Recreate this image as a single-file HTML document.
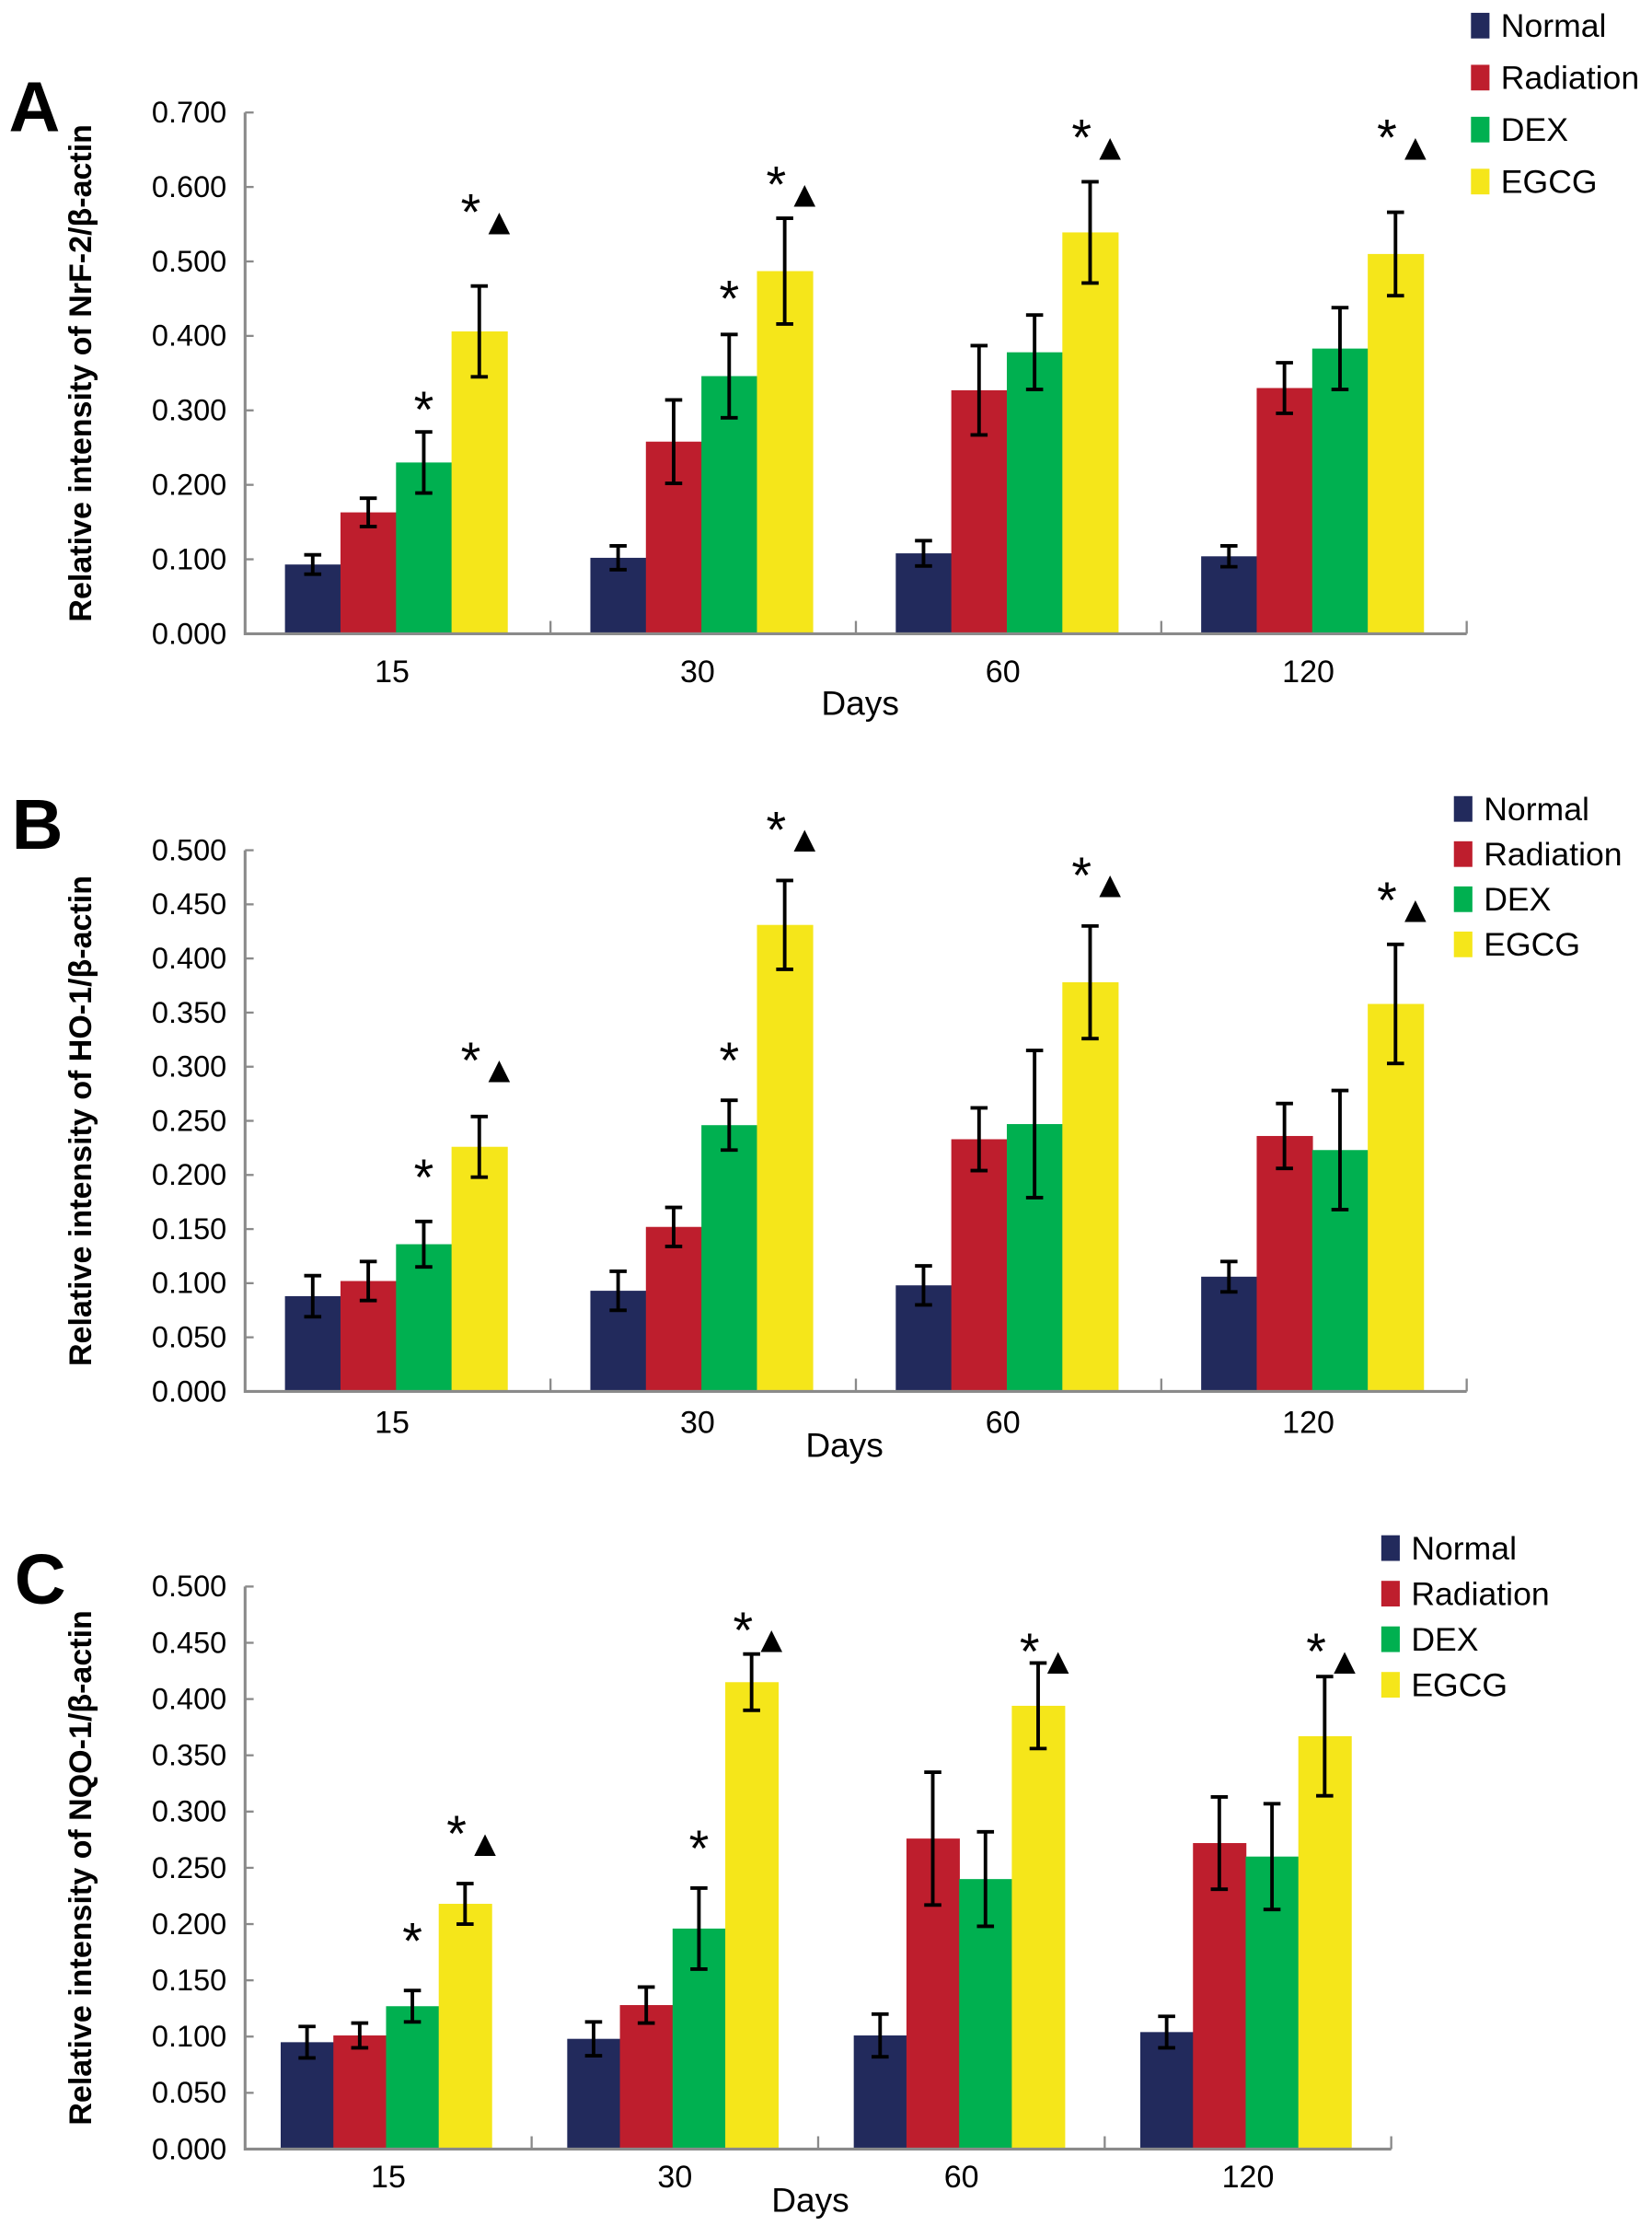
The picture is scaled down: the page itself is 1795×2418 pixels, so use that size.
<!DOCTYPE html>
<html><head><meta charset="utf-8"><style>
html,body{margin:0;padding:0;background:#fff}
svg{display:block}
text{font-family:"Liberation Sans",sans-serif}
</style></head><body>
<svg id="fig" width="1795" height="2418" viewBox="0 0 1160 1563" xmlns="http://www.w3.org/2000/svg"></svg>
<script>
const categories=["15","30","60","120"];
const seriesNames=["Normal","Radiation","DEX","EGCG"];
const colors=["#222a5c","#be1e2d","#00b050","#f5e61a"];
// Panel A
const aNormal=[0.093,0.102,0.108,0.104], aNormalErr=[0.013,0.016,0.017,0.014];
const aRad=[0.163,0.258,0.327,0.330], aRadErr=[0.019,0.056,0.060,0.034];
const aDex=[0.230,0.346,0.378,0.383], aDexErr=[0.041,0.056,0.050,0.055];
const aEgcg=[0.406,0.487,0.539,0.510], aEgcgErr=[0.061,0.071,0.068,0.056];
const aTicks=["0.000","0.100","0.200","0.300","0.400","0.500","0.600","0.700"];
const aEgcgMark=[0.575,0.612,0.675,0.675], aDexMark=[0.31,0.459,null,null];
// Panel B
const bNormal=[0.088,0.093,0.098,0.106], bNormalErr=[0.019,0.018,0.018,0.014];
const bRad=[0.102,0.152,0.233,0.236], bRadErr=[0.018,0.018,0.029,0.030];
const bDex=[0.136,0.246,0.247,0.223], bDexErr=[0.021,0.023,0.068,0.055];
const bEgcg=[0.226,0.431,0.378,0.358], bEgcgErr=[0.028,0.041,0.052,0.055];
const bTicks=["0.000","0.050","0.100","0.150","0.200","0.250","0.300","0.350","0.400","0.450","0.500"];
const bEgcgMark=[0.312,0.525,0.483,0.46], bDexMark=[0.204,0.312,null,null];
// Panel C
const cNormal=[0.095,0.098,0.101,0.104], cNormalErr=[0.014,0.015,0.019,0.014];
const cRad=[0.101,0.128,0.276,0.272], cRadErr=[0.011,0.016,0.059,0.041];
const cDex=[0.127,0.196,0.240,0.260], cDexErr=[0.014,0.036,0.042,0.047];
const cEgcg=[0.218,0.415,0.394,0.367], cEgcgErr=[0.018,0.025,0.038,0.053];
const cTicks=["0.000","0.050","0.100","0.150","0.200","0.250","0.300","0.350","0.400","0.450","0.500"];
const cEgcgMark=[0.286,0.467,0.448,0.448], cDexMark=[0.191,0.273,null,null];

const svg=document.getElementById('fig');
const NS="http://www.w3.org/2000/svg";
function mk(tag,attrs,parent){const e=document.createElementNS(NS,tag);for(const k in attrs)e.setAttribute(k,attrs[k]);(parent||svg).appendChild(e);return e;}

function panel(p){
  const g=mk('g',{});
  
  
  const yScale=v=>p.y0-(v/p.max)*(p.y0-p.y1);
  const gw=(p.x1-p.x0)/categories.length;
  const L=mk('text',{x:p.lx,y:p.ly,'font-size':50,'font-weight':'bold'},g);L.textContent=p.letter;
  
  
  const yl=mk('text',{x:0,y:0,'font-size':22,'font-weight':'bold','text-anchor':'middle',transform:`translate(${p.ylx},${(p.y0+p.y1)/2}) rotate(-90)`},g);
  yl.textContent=p.ylabel;
  
  
  p.ticks.forEach(t=>{const v=parseFloat(t);const y=yScale(v);
    mk('line',{x1:p.x0,x2:p.x0+6,y1:y,y2:y,stroke:'#8a8a8a','stroke-width':1.5},g);
    const tt=mk('text',{x:p.x0-13,y:y+7,'font-size':21,'text-anchor':'end'},g);tt.textContent=t;
    
    
  });
  const series=p.series;
  categories.forEach((c,i)=>{
    const gx=p.x0+i*gw;
    series.forEach((s,j)=>{
      const x=gx+p.off+j*p.bw;const v=s.v[i],e=s.e[i];
      const r=mk('rect',{x:x,y:yScale(v),width:p.bw+0.5,height:p.y0-yScale(v),fill:colors[j]},g);
      
      
      const cx=x+p.bw/2;
      mk('path',{d:`M${cx},${yScale(v+e)}V${yScale(v-e)}M${cx-6},${yScale(v+e)}H${cx+6}M${cx-6},${yScale(v-e)}H${cx+6}`,stroke:'#000','stroke-width':2.5,fill:'none'},g);
    });
    const ex=gx+p.off+3*p.bw+p.bw/2;
    const st=mk('text',{x:ex-6,y:yScale(p.egcgMark[i])+17,'font-size':36,'text-anchor':'middle'},g);st.textContent='*';
    
    
    const tr=mk('text',{x:ex+14,y:yScale(p.egcgMark[i])+20,'font-size':26,'text-anchor':'middle'},g);tr.textContent='▲';
    
    
    if(p.dexMark[i]!=null){const dx=gx+p.off+2*p.bw+p.bw/2;
      const ds=mk('text',{x:dx,y:yScale(p.dexMark[i])+17,'font-size':36,'text-anchor':'middle'},g);ds.textContent='*';
      
      }
    const cl=mk('text',{x:gx+gw/2+p.labDx,y:p.y0+p.labDy,'font-size':22,'text-anchor':'middle'},g);cl.textContent=c;
    
    
    if(i>0)mk('line',{x1:gx,x2:gx,y1:p.y0,y2:p.y0-9,stroke:'#8a8a8a','stroke-width':1.5},g);
  });
  mk('line',{x1:p.x1,x2:p.x1,y1:p.y0,y2:p.y0-9,stroke:'#8a8a8a','stroke-width':1.5},g);
  mk('path',{d:`M${p.x0},${p.y1}V${p.y0}H${p.x1}`,stroke:'#8a8a8a','stroke-width':2,fill:'none'},g);
  const dl=mk('text',{x:p.daysX,y:p.y0+p.daysDy,'font-size':24,'text-anchor':'middle'},g);dl.textContent='Days';
  
  
  seriesNames.forEach((n,j)=>{
    const y=p.legY+j*p.legDy;
    const lg=mk('g',{},g);
    
    
    mk('rect',{x:p.legX,y:y-9,width:13,height:18,fill:colors[j]},lg);
    const t=mk('text',{x:p.legX+21,y:y+8,'font-size':23},lg);t.textContent=n;
  });
}
panel({letter:'A',lx:6,ly:92,ylabel:'Relative intensity of NrF-2/β-actin',ylx:64,x0:172,x1:1030,y0:445,y1:79,max:0.7,ticks:aTicks,off:28,bw:39,labDx:-4,labDy:34,daysDy:57,
  series:[{v:aNormal,e:aNormalErr},{v:aRad,e:aRadErr},{v:aDex,e:aDexErr},{v:aEgcg,e:aEgcgErr}],egcgMark:aEgcgMark,dexMark:aDexMark,daysX:604,legX:1033,legY:18,legDy:36.5});
panel({letter:'B',lx:8,ly:596,ylabel:'Relative intensity of HO-1/β-actin',ylx:64,x0:172,x1:1030,y0:977,y1:597,max:0.5,ticks:bTicks,off:28,bw:39,labDx:-4,labDy:29,daysDy:46,
  series:[{v:bNormal,e:bNormalErr},{v:bRad,e:bRadErr},{v:bDex,e:bDexErr},{v:bEgcg,e:bEgcgErr}],egcgMark:bEgcgMark,dexMark:bDexMark,daysX:593,legX:1021,legY:568,legDy:31.7});
panel({letter:'C',lx:10,ly:1126,ylabel:'Relative intensity of NQO-1/β-actin',ylx:64,x0:172,x1:977,y0:1509,y1:1114,max:0.5,ticks:cTicks,off:25,bw:37,labDx:0,labDy:27,daysDy:44,
  series:[{v:cNormal,e:cNormalErr},{v:cRad,e:cRadErr},{v:cDex,e:cDexErr},{v:cEgcg,e:cEgcgErr}],egcgMark:cEgcgMark,dexMark:cDexMark,daysX:569,legX:970,legY:1087,legDy:32});
</script>
</body></html>
